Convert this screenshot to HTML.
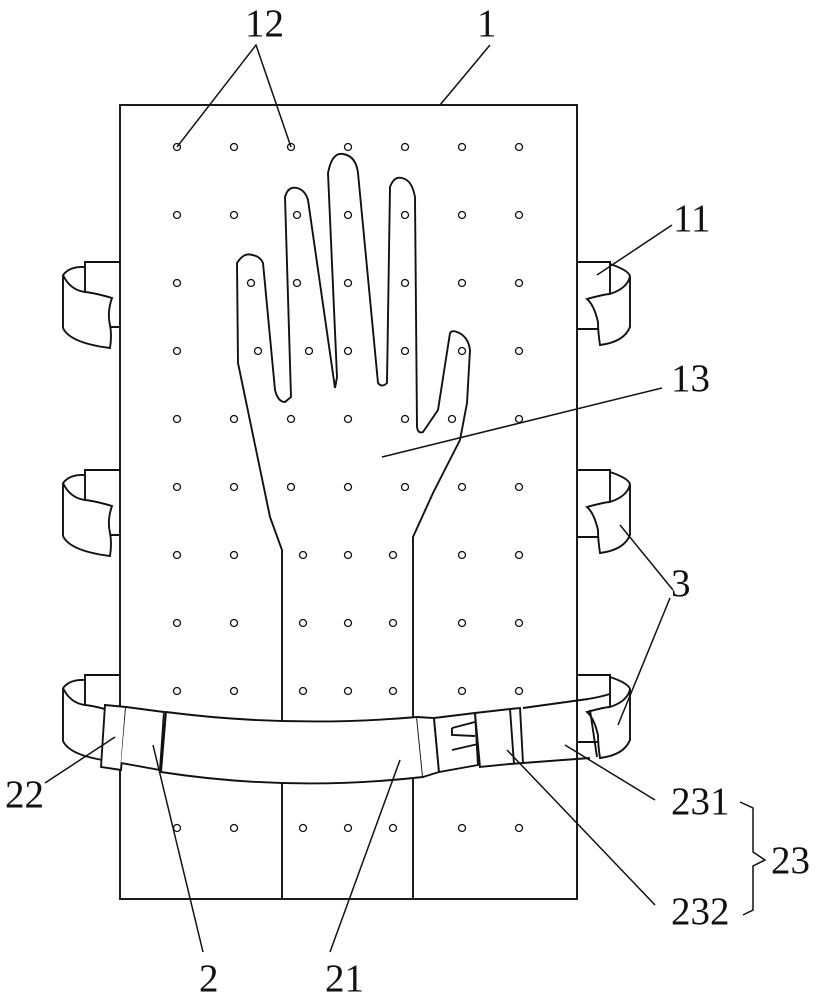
<!DOCTYPE html>
<html><head><meta charset="utf-8"><style>
html,body{margin:0;padding:0;background:#fff}
svg{display:block}
text{font-family:"Liberation Serif",serif;font-size:39px;fill:#111}
</style></head><body>
<svg width="820" height="1000" viewBox="0 0 820 1000" xmlns="http://www.w3.org/2000/svg">
<g fill="none" stroke="#111" stroke-width="1.9">
<rect x="120" y="105" width="457" height="794" fill="#fff"/>
<g id="L">
<path d="M120 262 H85 V292" />
<path d="M85 327 H120"/>
<path d="M63 275 Q70 266 85 267" />
<path d="M63 275 V328 Q70 343 110 348 Q112 335 110 325 Q107 312 112 298 Q95 293 85 292 Q70 290 63 275" fill="#fff"/>
</g>
<use href="#L" y="208"/>
<use href="#L" y="413"/>
<g id="R">
<path d="M577 262 H610 V297"/>
<path d="M577 329 H598"/>
<path d="M610 264 Q628 270 630 276 V327 Q624 342 600 345 Q598 332 598 322 Q594 305 587 299 Q605 294 610 294 Q628 288 630 276" fill="#fff"/>
</g>
<use href="#R" y="208"/>
<use href="#R" y="413"/>
<path d="M282 570 V899 M413 570 V899"/>
<path d="M282 570 L282 550 L270 517 L238 363 L237 263 Q244 252 252 255 Q260 256 263 263 L275 390 Q278 402 285 402 L291 397 L285 197 Q288 186 297 188 Q305 190 308 200 L335 388 L337 377 L328 173 Q332 152 343 154 Q356 156 358 173 L378 383 Q382 388 387 383 L390 187 Q394 176 402 178 Q412 180 415 197 L417 427 Q418 434 423 432 L438 410 L450 333 Q452 330 457 332 Q468 336 470 350 L467 403 L460 440 L433 493 L413 537 L413 570"/>
<path d="M105 705 L126 707 L121 770 L101 767 Z" fill="#fff"/>
<path d="M126 707 L164 712 L160 770 L121 763" fill="#fff"/>
<path d="M166 712 Q290 728 417 717 L423 777 Q290 792 161 772 Z" fill="#fff"/>
<path d="M417 717 L434 718 L439 772 L423 777" fill="#fff"/>
<path d="M434 718 L475 713 L478 765 L439 772 Z" fill="#fff"/>
<path d="M452 728 L475 722 M452 728 V735 L475 736 M452 750 L478 744"/>
<path d="M475 713 L510 709 L520 708 L523 763 L510 764 L480 767 Z" fill="#fff"/>
<path d="M510 709 L514 764"/>
<path d="M523 708 L588 699 Q600 697 610 694 M523 763 L590 758"/>
<path d="M590 710 L597 757"/>
</g>
<g fill="#fff" stroke="#111" stroke-width="1.3">
<circle cx="177" cy="147" r="3.5"/><circle cx="234" cy="147" r="3.5"/><circle cx="291" cy="147" r="3.5"/><circle cx="348" cy="147" r="3.5"/><circle cx="405" cy="147" r="3.5"/><circle cx="462" cy="147" r="3.5"/><circle cx="519" cy="147" r="3.5"/>
<circle cx="177" cy="215" r="3.5"/><circle cx="234" cy="215" r="3.5"/><circle cx="297" cy="215" r="3.5"/><circle cx="348" cy="215" r="3.5"/><circle cx="405" cy="215" r="3.5"/><circle cx="462" cy="215" r="3.5"/><circle cx="519" cy="215" r="3.5"/>
<circle cx="177" cy="283" r="3.5"/><circle cx="251" cy="283" r="3.5"/><circle cx="297" cy="283" r="3.5"/><circle cx="348" cy="283" r="3.5"/><circle cx="405" cy="283" r="3.5"/><circle cx="462" cy="283" r="3.5"/><circle cx="519" cy="283" r="3.5"/>
<circle cx="177" cy="351" r="3.5"/><circle cx="258" cy="351" r="3.5"/><circle cx="309" cy="351" r="3.5"/><circle cx="348" cy="351" r="3.5"/><circle cx="405" cy="351" r="3.5"/><circle cx="462" cy="351" r="3.5"/><circle cx="519" cy="351" r="3.5"/>
<circle cx="177" cy="419" r="3.5"/><circle cx="234" cy="419" r="3.5"/><circle cx="291" cy="419" r="3.5"/><circle cx="348" cy="419" r="3.5"/><circle cx="405" cy="419" r="3.5"/><circle cx="452" cy="419" r="3.5"/><circle cx="519" cy="419" r="3.5"/>
<circle cx="177" cy="487" r="3.5"/><circle cx="234" cy="487" r="3.5"/><circle cx="291" cy="487" r="3.5"/><circle cx="348" cy="487" r="3.5"/><circle cx="405" cy="487" r="3.5"/><circle cx="462" cy="487" r="3.5"/><circle cx="519" cy="487" r="3.5"/>
<circle cx="177" cy="555" r="3.5"/><circle cx="234" cy="555" r="3.5"/><circle cx="303" cy="555" r="3.5"/><circle cx="348" cy="555" r="3.5"/><circle cx="393" cy="555" r="3.5"/><circle cx="462" cy="555" r="3.5"/><circle cx="519" cy="555" r="3.5"/>
<circle cx="177" cy="623" r="3.5"/><circle cx="234" cy="623" r="3.5"/><circle cx="303" cy="623" r="3.5"/><circle cx="348" cy="623" r="3.5"/><circle cx="393" cy="623" r="3.5"/><circle cx="462" cy="623" r="3.5"/><circle cx="519" cy="623" r="3.5"/>
<circle cx="177" cy="691" r="3.5"/><circle cx="234" cy="691" r="3.5"/><circle cx="303" cy="691" r="3.5"/><circle cx="348" cy="691" r="3.5"/><circle cx="393" cy="691" r="3.5"/><circle cx="462" cy="691" r="3.5"/><circle cx="519" cy="691" r="3.5"/>
<circle cx="177" cy="828" r="3.5"/><circle cx="234" cy="828" r="3.5"/><circle cx="303" cy="828" r="3.5"/><circle cx="348" cy="828" r="3.5"/><circle cx="393" cy="828" r="3.5"/><circle cx="462" cy="828" r="3.5"/><circle cx="519" cy="828" r="3.5"/>
</g>
<g fill="none" stroke="#111" stroke-width="1.5">
<path d="M177 147 L256 45 L291 147"/>
<path d="M490 45 L440 105"/>
<path d="M672 225 L597 275"/>
<path d="M662 388 L382 457"/>
<path d="M673 590 L620 525 M670 598 L618 725"/>
<path d="M45 783 L115 737"/>
<path d="M655 800 L565 745"/>
<path d="M655 905 L507 750"/>
<path d="M203 952 L153 745"/>
<path d="M330 952 L400 760"/>
<path d="M740 802 L753 808 V852 L765 860 L753 866 V910 L743 915"/>
</g>
<text x="245" y="36">12</text>
<text x="477" y="36">1</text>
<text x="673" y="231">11</text>
<text x="671" y="391">13</text>
<text x="671" y="596">3</text>
<text x="5" y="807">22</text>
<text x="671" y="814">231</text>
<text x="771" y="873">23</text>
<text x="671" y="924">232</text>
<text x="199" y="991">2</text>
<text x="325" y="991">21</text>
</svg>
</body></html>
